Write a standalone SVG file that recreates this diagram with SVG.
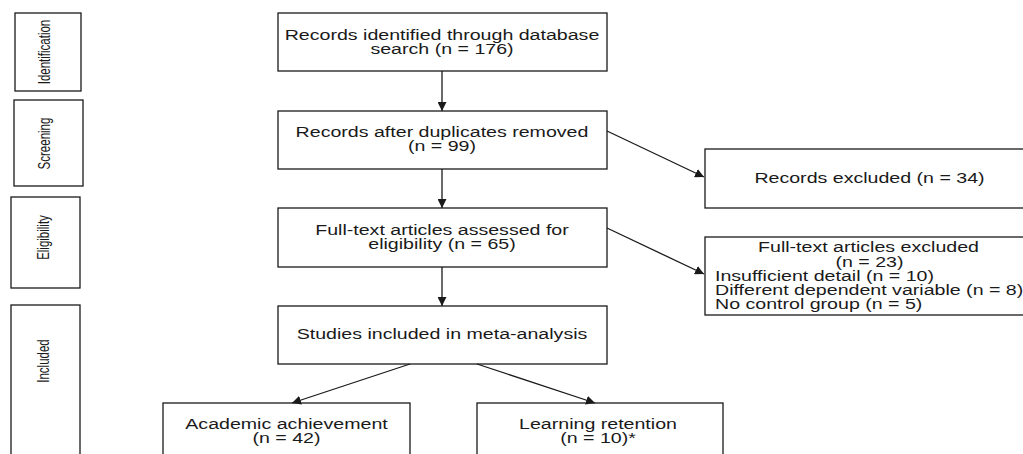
<svg xmlns="http://www.w3.org/2000/svg" width="1023" height="454" viewBox="0 0 1023 454">
<style>
.box{fill:#fff;stroke:#1a1a1a;stroke-width:1.3}
.t{font-family:"Liberation Sans",Arial,sans-serif;font-size:14px;fill:#1a1a1a}
.c{text-anchor:middle}
.r{font-family:"Liberation Sans",Arial,sans-serif;font-size:11.5px;fill:#1a1a1a;text-anchor:middle}
.ln{stroke:#1a1a1a;stroke-width:1.3;fill:none}
</style>
<defs>
<marker id="ah" viewBox="0 0 10 10" refX="10" refY="5" markerWidth="9" markerHeight="9" markerUnits="userSpaceOnUse" orient="auto">
<path d="M0,0 L10,5 L0,10 Z" fill="#1a1a1a"/>
</marker>
</defs>
<rect width="1023" height="454" fill="#fff"/>
<g id="phase-identification">
<rect class="box" x="15" y="13" width="66" height="78"/>
<text class="r" transform="translate(50,52) scale(1.4,1) rotate(-90)">Identification</text>
</g>
<g id="phase-screening">
<rect class="box" x="14" y="100" width="69" height="86"/>
<text class="r" transform="translate(50,143.5) scale(1.4,1) rotate(-90)">Screening</text>
</g>
<g id="phase-eligibility">
<rect class="box" x="11" y="197" width="69" height="91"/>
<text class="r" transform="translate(49,237.5) scale(1.4,1) rotate(-90)">Eligibility</text>
</g>
<g id="phase-included">
<rect class="box" x="11" y="305" width="69" height="160"/>
<text class="r" transform="translate(49,361) scale(1.4,1) rotate(-90)">Included</text>
</g>
<g id="n-identified">
<rect class="box" x="278" y="13" width="329" height="58"/>
<text class="t c" transform="translate(442,39.5) scale(1.4,1)">Records identified through database</text>
<text class="t c" transform="translate(442,53.5) scale(1.4,1)">search (n = 176)</text>
</g>
<g id="n-screened">
<rect class="box" x="278" y="111" width="329" height="58"/>
<text class="t c" transform="translate(442,137) scale(1.4,1)">Records after duplicates removed</text>
<text class="t c" transform="translate(442,151) scale(1.4,1)">(n = 99)</text>
</g>
<g id="n-eligible">
<rect class="box" x="278" y="208" width="329" height="59"/>
<text class="t c" transform="translate(442,235) scale(1.4,1)">Full-text articles assessed for</text>
<text class="t c" transform="translate(442,249) scale(1.4,1)">eligibility (n = 65)</text>
</g>
<g id="n-included">
<rect class="box" x="278" y="306" width="329" height="58"/>
<text class="t c" transform="translate(442,339) scale(1.4,1)">Studies included in meta-analysis</text>
</g>
<g id="n-excluded-records">
<rect class="box" x="705" y="149" width="330" height="59"/>
<text class="t c" transform="translate(869.5,183) scale(1.4,1)">Records excluded (n = 34)</text>
</g>
<g id="n-excluded-fulltext">
<rect class="box" x="705" y="237" width="330" height="78"/>
<text class="t c" transform="translate(868.5,252) scale(1.4,1)">Full-text articles excluded</text>
<text class="t c" transform="translate(869.5,266.5) scale(1.4,1)">(n = 23)</text>
<text class="t" transform="translate(715,280.5) scale(1.4,1)">Insufficient detail (n = 10)</text>
<text class="t" transform="translate(715,295) scale(1.4,1)">Different dependent variable (n = 8)</text>
<text class="t" transform="translate(715,309) scale(1.4,1)">No control group (n = 5)</text>
</g>
<g id="n-academic">
<rect class="box" x="163" y="403" width="247" height="60"/>
<text class="t c" transform="translate(286.5,428.5) scale(1.4,1)">Academic achievement</text>
<text class="t c" transform="translate(286.5,442.5) scale(1.4,1)">(n = 42)</text>
</g>
<g id="n-retention">
<rect class="box" x="477" y="403" width="246" height="60"/>
<text class="t c" transform="translate(598,429) scale(1.4,1)">Learning retention</text>
<text class="t c" transform="translate(598,443) scale(1.4,1)">(n = 10)*</text>
</g>
<g id="connectors">
<line class="ln" x1="442" y1="71" x2="442" y2="111" marker-end="url(#ah)"/>
<line class="ln" x1="442" y1="169" x2="442" y2="208" marker-end="url(#ah)"/>
<line class="ln" x1="442" y1="267" x2="442" y2="306" marker-end="url(#ah)"/>
<line class="ln" x1="607" y1="131" x2="704" y2="177" marker-end="url(#ah)"/>
<line class="ln" x1="607" y1="228" x2="704" y2="274" marker-end="url(#ah)"/>
<line class="ln" x1="410" y1="364" x2="292" y2="403" marker-end="url(#ah)"/>
<line class="ln" x1="477" y1="364" x2="595" y2="403" marker-end="url(#ah)"/>
</g>
</svg>
